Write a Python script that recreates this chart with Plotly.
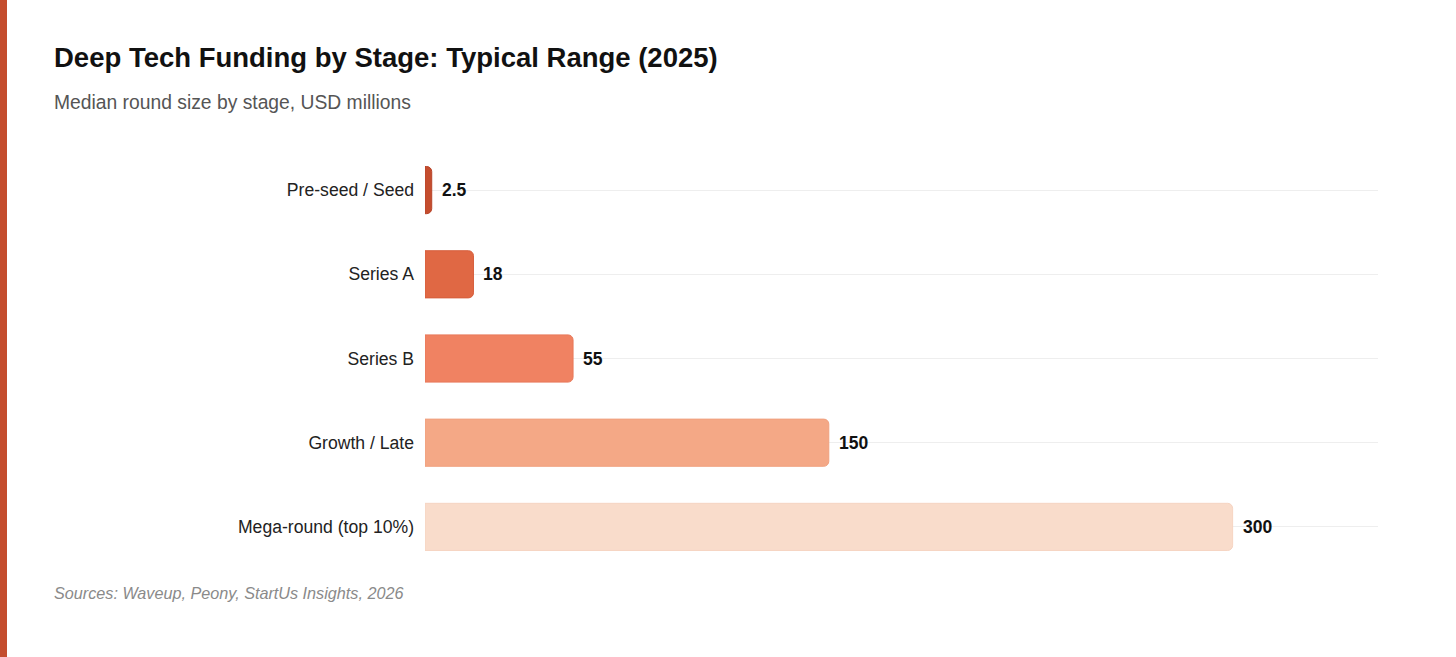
import plotly.graph_objects as go

# Data
stages = ['Pre-seed / Seed', 'Series A', 'Series B', 'Growth / Late', 'Mega-round (top 10%)']
median_round = [2.5, 18, 55, 150, 300]
value_labels = ['2.5', '18', '55', '150', '300']

BAR_COLORS = ['#C44D2E', '#E06844', '#F08262', '#F4A886', '#F9DCCB']
BAR_LINES = ['#B8442A', '#D65E3C', '#E8785A', '#F0A07E', '#F6D4C2']
FONT = 'Liberation Sans, Arial, sans-serif'

W, H = 1456, 657
L, R, T, B = 425, 78, 148, 88
PW, PH = W - L - R, H - T - B


def px_x(px):
    return (px - L) / PW


def px_y(py):
    return (H - B - py) / PH


fig = go.Figure()

fig.add_trace(go.Bar(
    x=median_round,
    y=stages,
    orientation='h',
    marker=dict(color=BAR_COLORS, line=dict(color=BAR_LINES, width=1), cornerradius=5),
    width=0.56,
    hoverinfo='x+y',
    showlegend=False,
))

# value labels just past the bar ends
for stage, val, lab in zip(stages, median_round, value_labels):
    fig.add_annotation(
        x=val, y=stage, text=f'<b>{lab}</b>',
        showarrow=False, xanchor='left', yanchor='middle', xshift=8,
        font=dict(size=17.5, family=FONT, color='#111111'),
    )

# title / subtitle / source
fig.add_annotation(
    x=px_x(52), y=px_y(58), xref='paper', yref='paper',
    text='<b>Deep Tech Funding by Stage: Typical Range (2025)</b>',
    showarrow=False, xanchor='left', yanchor='middle',
    font=dict(size=27.5, family=FONT, color='#111111'),
)
fig.add_annotation(
    x=px_x(52), y=px_y(102), xref='paper', yref='paper',
    text='Median round size by stage, USD millions',
    showarrow=False, xanchor='left', yanchor='middle',
    font=dict(size=19.3, family=FONT, color='#555555'),
)
fig.add_annotation(
    x=px_x(52), y=px_y(593), xref='paper', yref='paper',
    text='<i>Sources: Waveup, Peony, StartUs Insights, 2026</i>',
    showarrow=False, xanchor='left', yanchor='middle',
    font=dict(size=16.2, family=FONT, color='#8a8a8a'),
)

# left accent stripe
fig.add_shape(
    type='rect', xref='paper', yref='paper',
    x0=px_x(0), x1=px_x(7), y0=px_y(H), y1=px_y(0),
    fillcolor='#C44D2E', line=dict(width=0), layer='above',
)

fig.update_layout(
    width=W, height=H,
    margin=dict(l=L, r=R, t=T, b=B),
    paper_bgcolor='white',
    plot_bgcolor='white',
    font=dict(family=FONT),
    xaxis=dict(
        range=[0, 354], showgrid=False, showticklabels=False,
        zeroline=False, showline=False, fixedrange=True,
    ),
    yaxis=dict(
        autorange='reversed', showgrid=True, gridcolor='#eeeeee', gridwidth=1,
        zeroline=False, showline=False, ticks='', ticklabelstandoff=10,
        tickfont=dict(size=17.6, family=FONT, color='#222222'), fixedrange=True,
    ),
)

fig.write_html(
    'out.html',
    config={'displayModeBar': False},
    post_script="document.body.style.margin='0';",
)
